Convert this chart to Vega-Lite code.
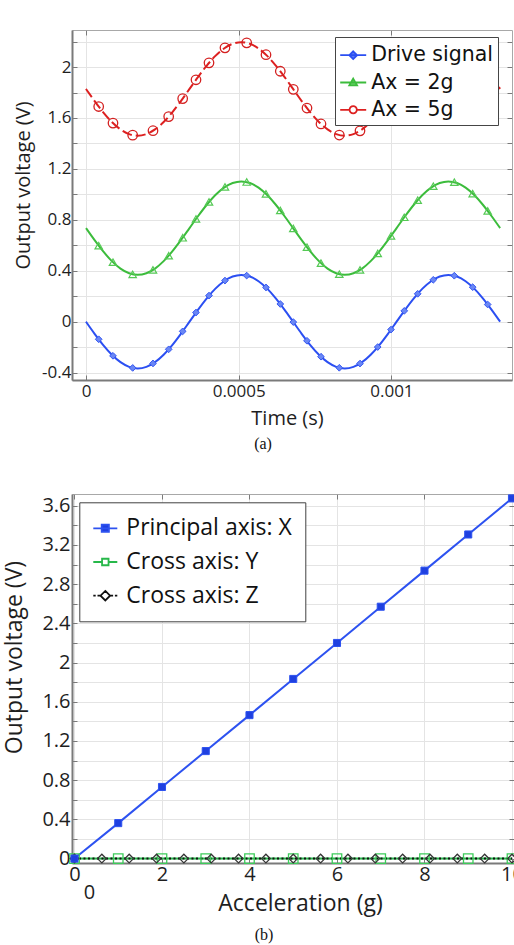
{
  "$schema": "https://vega.github.io/schema/vega-lite/v6.json",
  "background": "white",
  "padding": {"top": 29, "left": 2, "right": 0, "bottom": 0},
  "bounds": "flush",
  "spacing": 114,
  "resolve": {"scale": {"shape": "independent", "fill": "independent", "stroke": "independent"}, "legend": {"shape": "independent", "fill": "independent", "stroke": "independent"}},
  "datasets": {
    "lineA": [
      {"t": 0, "Drive signal": 0, "Ax = 2g": 0.735, "Ax = 5g": 1.828},
      {"t": 0.00002825, "Drive signal": -0.095, "Ax = 2g": 0.64, "Ax = 5g": 1.733},
      {"t": 0.0000565, "Drive signal": -0.1835, "Ax = 2g": 0.5515, "Ax = 5g": 1.6445},
      {"t": 0.00008475, "Drive signal": -0.2595, "Ax = 2g": 0.4755, "Ax = 5g": 1.5685},
      {"t": 0.000113, "Drive signal": -0.3178, "Ax = 2g": 0.4172, "Ax = 5g": 1.5102},
      {"t": 0.00014125, "Drive signal": -0.3545, "Ax = 2g": 0.3805, "Ax = 5g": 1.4735},
      {"t": 0.0001695, "Drive signal": -0.367, "Ax = 2g": 0.368, "Ax = 5g": 1.461},
      {"t": 0.00019775, "Drive signal": -0.3545, "Ax = 2g": 0.3805, "Ax = 5g": 1.4735},
      {"t": 0.000226, "Drive signal": -0.3178, "Ax = 2g": 0.4172, "Ax = 5g": 1.5102},
      {"t": 0.00025425, "Drive signal": -0.2595, "Ax = 2g": 0.4755, "Ax = 5g": 1.5685},
      {"t": 0.0002825, "Drive signal": -0.1835, "Ax = 2g": 0.5515, "Ax = 5g": 1.6445},
      {"t": 0.00031075, "Drive signal": -0.095, "Ax = 2g": 0.64, "Ax = 5g": 1.733},
      {"t": 0.000339, "Drive signal": 0, "Ax = 2g": 0.735, "Ax = 5g": 1.828},
      {"t": 0.00036725, "Drive signal": 0.095, "Ax = 2g": 0.83, "Ax = 5g": 1.923},
      {"t": 0.0003955, "Drive signal": 0.1835, "Ax = 2g": 0.9185, "Ax = 5g": 2.0115},
      {"t": 0.00042375, "Drive signal": 0.2595, "Ax = 2g": 0.9945, "Ax = 5g": 2.0875},
      {"t": 0.000452, "Drive signal": 0.3178, "Ax = 2g": 1.0528, "Ax = 5g": 2.1458},
      {"t": 0.00048025, "Drive signal": 0.3545, "Ax = 2g": 1.0895, "Ax = 5g": 2.1825},
      {"t": 0.0005085, "Drive signal": 0.367, "Ax = 2g": 1.102, "Ax = 5g": 2.195},
      {"t": 0.00053675, "Drive signal": 0.3545, "Ax = 2g": 1.0895, "Ax = 5g": 2.1825},
      {"t": 0.000565, "Drive signal": 0.3178, "Ax = 2g": 1.0528, "Ax = 5g": 2.1458},
      {"t": 0.00059325, "Drive signal": 0.2595, "Ax = 2g": 0.9945, "Ax = 5g": 2.0875},
      {"t": 0.0006215, "Drive signal": 0.1835, "Ax = 2g": 0.9185, "Ax = 5g": 2.0115},
      {"t": 0.00064975, "Drive signal": 0.095, "Ax = 2g": 0.83, "Ax = 5g": 1.923},
      {"t": 0.000678, "Drive signal": 0, "Ax = 2g": 0.735, "Ax = 5g": 1.828},
      {"t": 0.00070625, "Drive signal": -0.095, "Ax = 2g": 0.64, "Ax = 5g": 1.733},
      {"t": 0.0007345, "Drive signal": -0.1835, "Ax = 2g": 0.5515, "Ax = 5g": 1.6445},
      {"t": 0.00076275, "Drive signal": -0.2595, "Ax = 2g": 0.4755, "Ax = 5g": 1.5685},
      {"t": 0.000791, "Drive signal": -0.3178, "Ax = 2g": 0.4172, "Ax = 5g": 1.5102},
      {"t": 0.00081925, "Drive signal": -0.3545, "Ax = 2g": 0.3805, "Ax = 5g": 1.4735},
      {"t": 0.0008475, "Drive signal": -0.367, "Ax = 2g": 0.368, "Ax = 5g": 1.461},
      {"t": 0.00087575, "Drive signal": -0.3545, "Ax = 2g": 0.3805, "Ax = 5g": 1.4735},
      {"t": 0.000904, "Drive signal": -0.3178, "Ax = 2g": 0.4172, "Ax = 5g": 1.5102},
      {"t": 0.00093225, "Drive signal": -0.2595, "Ax = 2g": 0.4755, "Ax = 5g": 1.5685},
      {"t": 0.0009605, "Drive signal": -0.1835, "Ax = 2g": 0.5515, "Ax = 5g": 1.6445},
      {"t": 0.00098875, "Drive signal": -0.095, "Ax = 2g": 0.64, "Ax = 5g": 1.733},
      {"t": 0.001017, "Drive signal": 0, "Ax = 2g": 0.735, "Ax = 5g": 1.828},
      {"t": 0.00104525, "Drive signal": 0.095, "Ax = 2g": 0.83, "Ax = 5g": 1.923},
      {"t": 0.0010735, "Drive signal": 0.1835, "Ax = 2g": 0.9185, "Ax = 5g": 2.0115},
      {"t": 0.00110175, "Drive signal": 0.2595, "Ax = 2g": 0.9945, "Ax = 5g": 2.0875},
      {"t": 0.00113, "Drive signal": 0.3178, "Ax = 2g": 1.0528, "Ax = 5g": 2.1458},
      {"t": 0.00115825, "Drive signal": 0.3545, "Ax = 2g": 1.0895, "Ax = 5g": 2.1825},
      {"t": 0.0011865, "Drive signal": 0.367, "Ax = 2g": 1.102, "Ax = 5g": 2.195},
      {"t": 0.00121475, "Drive signal": 0.3545, "Ax = 2g": 1.0895, "Ax = 5g": 2.1825},
      {"t": 0.001243, "Drive signal": 0.3178, "Ax = 2g": 1.0528, "Ax = 5g": 2.1458},
      {"t": 0.00127125, "Drive signal": 0.2595, "Ax = 2g": 0.9945, "Ax = 5g": 2.0875},
      {"t": 0.0012995, "Drive signal": 0.1835, "Ax = 2g": 0.9185, "Ax = 5g": 2.0115},
      {"t": 0.00132775, "Drive signal": 0.095, "Ax = 2g": 0.83, "Ax = 5g": 1.923},
      {"t": 0.001356, "Drive signal": 0, "Ax = 2g": 0.735, "Ax = 5g": 1.828}
    ],
    "markA": [
      {"t": 0.0000416, "Drive signal": -0.138, "Ax = 2g": 0.597, "Ax = 5g": 1.69},
      {"t": 0.0000884, "Drive signal": -0.268, "Ax = 2g": 0.467, "Ax = 5g": 1.56},
      {"t": 0.0001529, "Drive signal": -0.363, "Ax = 2g": 0.372, "Ax = 5g": 1.465},
      {"t": 0.0002194, "Drive signal": -0.328, "Ax = 2g": 0.407, "Ax = 5g": 1.5},
      {"t": 0.0002708, "Drive signal": -0.217, "Ax = 2g": 0.518, "Ax = 5g": 1.611},
      {"t": 0.0003166, "Drive signal": -0.076, "Ax = 2g": 0.659, "Ax = 5g": 1.752},
      {"t": 0.0003602, "Drive signal": 0.072, "Ax = 2g": 0.807, "Ax = 5g": 1.9},
      {"t": 0.0004028, "Drive signal": 0.205, "Ax = 2g": 0.94, "Ax = 5g": 2.033},
      {"t": 0.0004551, "Drive signal": 0.323, "Ax = 2g": 1.058, "Ax = 5g": 2.151},
      {"t": 0.0005262, "Drive signal": 0.362, "Ax = 2g": 1.097, "Ax = 5g": 2.19},
      {"t": 0.0005894, "Drive signal": 0.269, "Ax = 2g": 1.004, "Ax = 5g": 2.097},
      {"t": 0.0006362, "Drive signal": 0.139, "Ax = 2g": 0.874, "Ax = 5g": 1.967},
      {"t": 0.0006788, "Drive signal": -0.003, "Ax = 2g": 0.732, "Ax = 5g": 1.825},
      {"t": 0.0007236, "Drive signal": -0.15, "Ax = 2g": 0.585, "Ax = 5g": 1.678},
      {"t": 0.0007695, "Drive signal": -0.275, "Ax = 2g": 0.46, "Ax = 5g": 1.553},
      {"t": 0.0008294, "Drive signal": -0.362, "Ax = 2g": 0.373, "Ax = 5g": 1.466},
      {"t": 0.0008972, "Drive signal": -0.329, "Ax = 2g": 0.406, "Ax = 5g": 1.499},
      {"t": 0.0009552, "Drive signal": -0.199, "Ax = 2g": 0.536, "Ax = 5g": 1.629},
      {"t": 0.0009987, "Drive signal": -0.062, "Ax = 2g": 0.673, "Ax = 5g": 1.766},
      {"t": 0.0010422, "Drive signal": 0.085, "Ax = 2g": 0.82, "Ax = 5g": 1.913},
      {"t": 0.0010861, "Drive signal": 0.219, "Ax = 2g": 0.954, "Ax = 5g": 2.047},
      {"t": 0.0011372, "Drive signal": 0.329, "Ax = 2g": 1.064, "Ax = 5g": 2.157},
      {"t": 0.001206, "Drive signal": 0.361, "Ax = 2g": 1.096, "Ax = 5g": 2.189},
      {"t": 0.0012662, "Drive signal": 0.271, "Ax = 2g": 1.006, "Ax = 5g": 2.099},
      {"t": 0.0013153, "Drive signal": 0.135, "Ax = 2g": 0.87, "Ax = 5g": 1.963}
    ],
    "dataB": [
      {"g": 0, "v": 0, "s": "Principal axis: X"},
      {"g": 1, "v": 0.362, "s": "Principal axis: X"},
      {"g": 2, "v": 0.731, "s": "Principal axis: X"},
      {"g": 3, "v": 1.097, "s": "Principal axis: X"},
      {"g": 4, "v": 1.464, "s": "Principal axis: X"},
      {"g": 5, "v": 1.833, "s": "Principal axis: X"},
      {"g": 6, "v": 2.2, "s": "Principal axis: X"},
      {"g": 7, "v": 2.57, "s": "Principal axis: X"},
      {"g": 8, "v": 2.938, "s": "Principal axis: X"},
      {"g": 9, "v": 3.307, "s": "Principal axis: X"},
      {"g": 10, "v": 3.675, "s": "Principal axis: X"},
      {"g": 0, "v": 0, "s": "Cross axis: Y"},
      {"g": 1, "v": 0, "s": "Cross axis: Y"},
      {"g": 2, "v": 0, "s": "Cross axis: Y"},
      {"g": 3, "v": 0, "s": "Cross axis: Y"},
      {"g": 4, "v": 0, "s": "Cross axis: Y"},
      {"g": 5, "v": 0, "s": "Cross axis: Y"},
      {"g": 6, "v": 0, "s": "Cross axis: Y"},
      {"g": 7, "v": 0, "s": "Cross axis: Y"},
      {"g": 8, "v": 0, "s": "Cross axis: Y"},
      {"g": 9, "v": 0, "s": "Cross axis: Y"},
      {"g": 10, "v": 0, "s": "Cross axis: Y"},
      {"g": 0, "v": 0, "s": "Cross axis: Z"},
      {"g": 0.625, "v": 0, "s": "Cross axis: Z"},
      {"g": 1.25, "v": 0, "s": "Cross axis: Z"},
      {"g": 1.875, "v": 0, "s": "Cross axis: Z"},
      {"g": 2.5, "v": 0, "s": "Cross axis: Z"},
      {"g": 3.125, "v": 0, "s": "Cross axis: Z"},
      {"g": 3.75, "v": 0, "s": "Cross axis: Z"},
      {"g": 4.375, "v": 0, "s": "Cross axis: Z"},
      {"g": 5, "v": 0, "s": "Cross axis: Z"},
      {"g": 5.625, "v": 0, "s": "Cross axis: Z"},
      {"g": 6.25, "v": 0, "s": "Cross axis: Z"},
      {"g": 6.875, "v": 0, "s": "Cross axis: Z"},
      {"g": 7.5, "v": 0, "s": "Cross axis: Z"},
      {"g": 8.125, "v": 0, "s": "Cross axis: Z"},
      {"g": 8.75, "v": 0, "s": "Cross axis: Z"},
      {"g": 9.375, "v": 0, "s": "Cross axis: Z"},
      {"g": 10, "v": 0, "s": "Cross axis: Z"}
    ],
    "strayB": [
      {"g": 0.34, "v": -0.351, "label": "0"}
    ]
  },
  "vconcat": [
    {
      "width": 440,
      "height": 350,
      "title": {"text": "(a)", "orient": "bottom", "anchor": "middle", "font": "Liberation Serif", "fontSize": 16, "fontWeight": "normal", "color": "#111111", "dx": -29, "offset": 8},
      "resolve": {"axis": {"x": "independent", "y": "independent"}},
      "layer": [
        {
          "data": {"name": "lineA"},
          "mark": {"type": "line", "interpolate": "monotone", "strokeWidth": 2, "color": "#2b4ff2"},
          "encoding": {
            "x": {"field": "t", "type": "quantitative", "scale": {"domain": [-0.0000458, 0.0013949], "nice": false, "zero": false},
              "axis": {"title": "Time (s)", "values": [0, 0.0005, 0.001], "format": "~g", "grid": true, "tickSize": -5, "domainWidth": 2, "labelFontSize": 17, "labelPadding": 8, "labelFlush": false, "labelOverlap": false, "titleFontSize": 20, "titleX": 215, "titleY": 38, "titleBaseline": "middle", "titleAlign": "center"}},
            "y": {"field": "Drive signal", "type": "quantitative", "scale": {"domain": [-0.458, 2.291], "nice": false, "zero": false},
              "axis": {"title": "Output voltage (V)", "values": [-0.4, -0.2, 0, 0.2, 0.4, 0.6, 0.8, 1, 1.2, 1.4, 1.6, 1.8, 2, 2.2], "labelExpr": "abs(round(datum.value*10)) % 4 === 0 ? (datum.value < 0 ? '-' : '') + format(abs(datum.value), '~g') : ''", "grid": true, "tickSize": -5, "domainWidth": 2, "labelFontSize": 17, "labelPadding": 6, "labelOverlap": false, "titleFontSize": 20, "titleX": -49, "titleY": 155, "titleBaseline": "middle", "titleAlign": "center", "titleAngle": 270}}
          }
        },
        {
          "data": {"name": "lineA"},
          "mark": {"type": "line", "interpolate": "monotone", "strokeWidth": 2, "color": "#3cbc3c"},
          "encoding": {
            "x": {"field": "t", "type": "quantitative", "scale": {"domain": [-0.0000458, 0.0013949], "nice": false, "zero": false}, "axis": null},
            "y": {"field": "Ax = 2g", "type": "quantitative", "scale": {"domain": [-0.458, 2.291], "nice": false, "zero": false}, "axis": null}
          }
        },
        {
          "data": {"name": "lineA"},
          "mark": {"type": "line", "interpolate": "monotone", "strokeWidth": 2, "color": "#dd2020", "strokeDash": [10, 4]},
          "encoding": {
            "x": {"field": "t", "type": "quantitative", "scale": {"domain": [-0.0000458, 0.0013949], "nice": false, "zero": false}, "axis": null},
            "y": {"field": "Ax = 5g", "type": "quantitative", "scale": {"domain": [-0.458, 2.291], "nice": false, "zero": false}, "axis": null}
          }
        },
        {
          "data": {"name": "markA"},
          "mark": {"type": "point", "shape": "diamond", "filled": true, "fill": "#6a87f5", "stroke": "#3557f2", "strokeWidth": 1, "size": 45, "opacity": 1},
          "encoding": {
            "x": {"field": "t", "type": "quantitative", "scale": {"domain": [-0.0000458, 0.0013949], "nice": false, "zero": false},
              "axis": {"orient": "top", "values": [0, 0.0005, 0.001], "labels": false, "domain": false, "grid": false, "ticks": true, "tickSize": -5, "title": null}},
            "y": {"field": "Drive signal", "type": "quantitative", "scale": {"domain": [-0.458, 2.291], "nice": false, "zero": false},
              "axis": {"orient": "right", "values": [-0.4, -0.2, 0, 0.2, 0.4, 0.6, 0.8, 1, 1.2, 1.4, 1.6, 1.8, 2, 2.2], "labels": false, "domain": false, "grid": false, "ticks": true, "tickSize": -5, "title": null}}
          }
        },
        {
          "data": {"name": "markA"},
          "mark": {"type": "point", "shape": "triangle-up", "filled": true, "fill": "transparent", "stroke": "#55c955", "strokeWidth": 1.2, "size": 55, "opacity": 1},
          "encoding": {
            "x": {"field": "t", "type": "quantitative", "scale": {"domain": [-0.0000458, 0.0013949], "nice": false, "zero": false}, "axis": null},
            "y": {"field": "Ax = 2g", "type": "quantitative", "scale": {"domain": [-0.458, 2.291], "nice": false, "zero": false}, "axis": null}
          }
        },
        {
          "data": {"name": "markA"},
          "mark": {"type": "point", "shape": "circle", "filled": true, "fill": "transparent", "stroke": "#d42020", "strokeWidth": 1.3, "size": 90, "opacity": 1},
          "encoding": {
            "x": {"field": "t", "type": "quantitative", "scale": {"domain": [-0.0000458, 0.0013949], "nice": false, "zero": false}, "axis": null},
            "y": {"field": "Ax = 5g", "type": "quantitative", "scale": {"domain": [-0.458, 2.291], "nice": false, "zero": false}, "axis": null}
          }
        },
        {
          "data": {"name": "markA"},
          "transform": [{"fold": ["Drive signal", "Ax = 2g", "Ax = 5g"], "as": ["series", "v"]}],
          "mark": {"type": "point", "filled": true, "opacity": 0, "strokeWidth": 1.8},
          "encoding": {
            "x": {"field": "t", "type": "quantitative", "scale": {"domain": [-0.0000458, 0.0013949], "nice": false, "zero": false}, "axis": null},
            "y": {"field": "v", "type": "quantitative", "scale": {"domain": [-0.458, 2.291], "nice": false, "zero": false}, "axis": null},
            "shape": {"field": "series", "type": "nominal",
              "scale": {"domain": ["Drive signal", "Ax = 2g", "Ax = 5g"], "range": ["M-1,0H1M0,-0.3L0.3,0L0,0.3L-0.3,0Z", "M-1,0H1M0,-0.3L0.3,0.22L-0.3,0.22Z", "M-1,0H-0.28M0.28,0H1M0.28,0A0.28,0.28,0,1,1,-0.28,0A0.28,0.28,0,1,1,0.28,0Z"]},
              "legend": {"title": null, "orient": "none", "legendX": 263, "legendY": 7, "direction": "vertical", "fillColor": "white", "strokeColor": "#454545", "padding": 4.2, "rowPadding": 2.3, "symbolSize": 676, "symbolStrokeWidth": 1.8, "symbolOpacity": 1, "labelFont": "DejaVu Sans", "labelFontSize": 20.5, "labelColor": "#111111", "labelOffset": 4, "labelLimit": 400, "labelExpr": "datum.label + '\u00a0'"}},
            "fill": {"field": "series", "type": "nominal", "scale": {"domain": ["Drive signal", "Ax = 2g", "Ax = 5g"], "range": ["#5b7cf5", "#6fd06f", "#ffffff"]}},
            "stroke": {"field": "series", "type": "nominal", "scale": {"domain": ["Drive signal", "Ax = 2g", "Ax = 5g"], "range": ["#2b4ff2", "#3cbc3c", "#dd2020"]}}
          }
        }
      ]
    },
    {
      "width": 442,
      "height": 369,
      "title": {"text": "(b)", "orient": "bottom", "anchor": "middle", "font": "Liberation Serif", "fontSize": 16, "fontWeight": "normal", "color": "#111111", "dx": -29, "offset": 12},
      "resolve": {"axis": {"x": "independent", "y": "independent"}},
      "layer": [
        {
          "data": {"name": "dataB"},
          "transform": [{"filter": "datum.s === 'Principal axis: X'"}],
          "mark": {"type": "line", "strokeWidth": 2, "color": "#2d52f0"},
          "encoding": {
            "x": {"field": "g", "type": "quantitative", "scale": {"domain": [-0.057, 10.046], "nice": false, "zero": false},
              "axis": {"title": "Acceleration (g)", "values": [0, 2, 4, 6, 8, 10], "format": "d", "grid": true, "tickSize": -5, "domainWidth": 2, "labelFontSize": 20, "labelPadding": 6, "labelFlush": false, "labelOverlap": false, "titleFontSize": 23, "titleX": 228, "titleY": 40, "titleBaseline": "middle", "titleAlign": "center"}},
            "y": {"field": "v", "type": "quantitative", "scale": {"domain": [-0.045, 3.72], "nice": false, "zero": false},
              "axis": {"title": "Output voltage (V)", "values": [0, 0.2, 0.4, 0.6, 0.8, 1, 1.2, 1.4, 1.6, 1.8, 2, 2.2, 2.4, 2.6, 2.8, 3, 3.2, 3.4, 3.6], "labelExpr": "abs(round(datum.value*10)) % 4 === 0 ? format(datum.value, '~g') : ''", "grid": true, "tickSize": -5, "domainWidth": 2, "labelFontSize": 20, "labelPadding": 7, "labelOverlap": false, "titleFontSize": 23, "titleX": -58, "titleY": 163, "titleBaseline": "middle", "titleAlign": "center", "titleAngle": 270}}
          }
        },
        {
          "data": {"name": "dataB"},
          "transform": [{"filter": "datum.s === 'Cross axis: Y'"}],
          "mark": {"type": "line", "strokeWidth": 2, "color": "#27b84a"},
          "encoding": {
            "x": {"field": "g", "type": "quantitative", "scale": {"domain": [-0.057, 10.046], "nice": false, "zero": false}, "axis": null},
            "y": {"field": "v", "type": "quantitative", "scale": {"domain": [-0.045, 3.72], "nice": false, "zero": false}, "axis": null}
          }
        },
        {
          "data": {"name": "dataB"},
          "transform": [{"filter": "datum.s === 'Cross axis: Z'"}],
          "mark": {"type": "line", "strokeWidth": 2, "color": "#111111", "strokeDash": [2, 2.5]},
          "encoding": {
            "x": {"field": "g", "type": "quantitative", "scale": {"domain": [-0.057, 10.046], "nice": false, "zero": false}, "axis": null},
            "y": {"field": "v", "type": "quantitative", "scale": {"domain": [-0.045, 3.72], "nice": false, "zero": false}, "axis": null}
          }
        },
        {
          "data": {"name": "dataB"},
          "transform": [{"filter": "datum.s === 'Cross axis: Y'"}],
          "mark": {"type": "point", "shape": "square", "filled": true, "fill": "transparent", "stroke": "#3ccc5a", "strokeWidth": 1.3, "size": 90, "opacity": 1},
          "encoding": {
            "x": {"field": "g", "type": "quantitative", "scale": {"domain": [-0.057, 10.046], "nice": false, "zero": false},
              "axis": {"orient": "top", "values": [0, 2, 4, 6, 8, 10], "labels": false, "domain": false, "grid": false, "ticks": true, "tickSize": -5, "title": null}},
            "y": {"field": "v", "type": "quantitative", "scale": {"domain": [-0.045, 3.72], "nice": false, "zero": false},
              "axis": {"orient": "right", "values": [0, 0.2, 0.4, 0.6, 0.8, 1, 1.2, 1.4, 1.6, 1.8, 2, 2.2, 2.4, 2.6, 2.8, 3, 3.2, 3.4, 3.6], "labels": false, "domain": false, "grid": false, "ticks": true, "tickSize": -5, "title": null}}
          }
        },
        {
          "data": {"name": "dataB"},
          "transform": [{"filter": "datum.s === 'Cross axis: Z'"}],
          "mark": {"type": "point", "shape": "diamond", "filled": true, "fill": "transparent", "stroke": "#333333", "strokeWidth": 1.3, "size": 75, "opacity": 1},
          "encoding": {
            "x": {"field": "g", "type": "quantitative", "scale": {"domain": [-0.057, 10.046], "nice": false, "zero": false}, "axis": null},
            "y": {"field": "v", "type": "quantitative", "scale": {"domain": [-0.045, 3.72], "nice": false, "zero": false}, "axis": null}
          }
        },
        {
          "data": {"name": "dataB"},
          "transform": [{"filter": "datum.s === 'Principal axis: X'"}],
          "mark": {"type": "point", "shape": "square", "filled": true, "fill": "#1f40e0", "stroke": "#2d52f0", "strokeWidth": 1, "size": 50, "opacity": 1},
          "encoding": {
            "x": {"field": "g", "type": "quantitative", "scale": {"domain": [-0.057, 10.046], "nice": false, "zero": false}, "axis": null},
            "y": {"field": "v", "type": "quantitative", "scale": {"domain": [-0.045, 3.72], "nice": false, "zero": false}, "axis": null}
          }
        },
        {
          "data": {"name": "strayB"},
          "mark": {"type": "text", "font": "Open Sans", "fontSize": 20, "color": "#1e1e1e", "align": "center", "baseline": "middle"},
          "encoding": {
            "x": {"field": "g", "type": "quantitative", "scale": {"domain": [-0.057, 10.046], "nice": false, "zero": false}, "axis": null},
            "y": {"field": "v", "type": "quantitative", "scale": {"domain": [-0.045, 3.72], "nice": false, "zero": false}, "axis": null},
            "text": {"field": "label", "type": "nominal"}
          }
        },
        {
          "data": {"name": "dataB"},
          "mark": {"type": "point", "filled": true, "opacity": 0, "strokeWidth": 1.8},
          "encoding": {
            "x": {"field": "g", "type": "quantitative", "scale": {"domain": [-0.057, 10.046], "nice": false, "zero": false}, "axis": null},
            "y": {"field": "v", "type": "quantitative", "scale": {"domain": [-0.045, 3.72], "nice": false, "zero": false}, "axis": null},
            "shape": {"field": "s", "type": "nominal",
              "scale": {"domain": ["Principal axis: X", "Cross axis: Y", "Cross axis: Z"], "range": ["M-1,0H1M-0.3,-0.3H0.3V0.3H-0.3Z", "M-1,0H-0.27M0.27,0H1M-0.27,-0.27H0.27V0.27H-0.27Z", "M-1,0H-0.8M-0.65,0H-0.42M0.42,0H0.65M0.8,0H1M0,-0.4L0.4,0L0,0.4L-0.4,0Z"]},
              "legend": {"title": null, "orient": "none", "legendX": 7.3, "legendY": 8.3, "direction": "vertical", "fillColor": "white", "strokeColor": "#404040", "padding": 13, "rowPadding": 8.7, "symbolSize": 576, "symbolStrokeWidth": 1.8, "symbolOpacity": 1, "labelFont": "Open Sans", "labelFontSize": 23, "labelColor": "#111111", "labelOffset": 8, "labelLimit": 400, "labelExpr": "datum.label + '\u00a0\u00a0\u00a0'"}},
            "fill": {"field": "s", "type": "nominal", "scale": {"domain": ["Principal axis: X", "Cross axis: Y", "Cross axis: Z"], "range": ["#1f40e0", "#ffffff", "#ffffff"]}},
            "stroke": {"field": "s", "type": "nominal", "scale": {"domain": ["Principal axis: X", "Cross axis: Y", "Cross axis: Z"], "range": ["#2d52f0", "#27b84a", "#111111"]}}
          }
        }
      ]
    }
  ],
  "config": {
    "view": {"stroke": "#a8a8a8", "strokeWidth": 1},
    "axis": {"labelFont": "Open Sans", "titleFont": "Open Sans", "labelColor": "#1e1e1e", "titleColor": "#1e1e1e", "titleFontWeight": "normal", "gridColor": "#e4e4e4", "gridWidth": 1, "tickColor": "#7a7a7a", "tickWidth": 1, "domainColor": "#7a7a7a"},
    "legend": {"symbolOpacity": 1}
  }
}
